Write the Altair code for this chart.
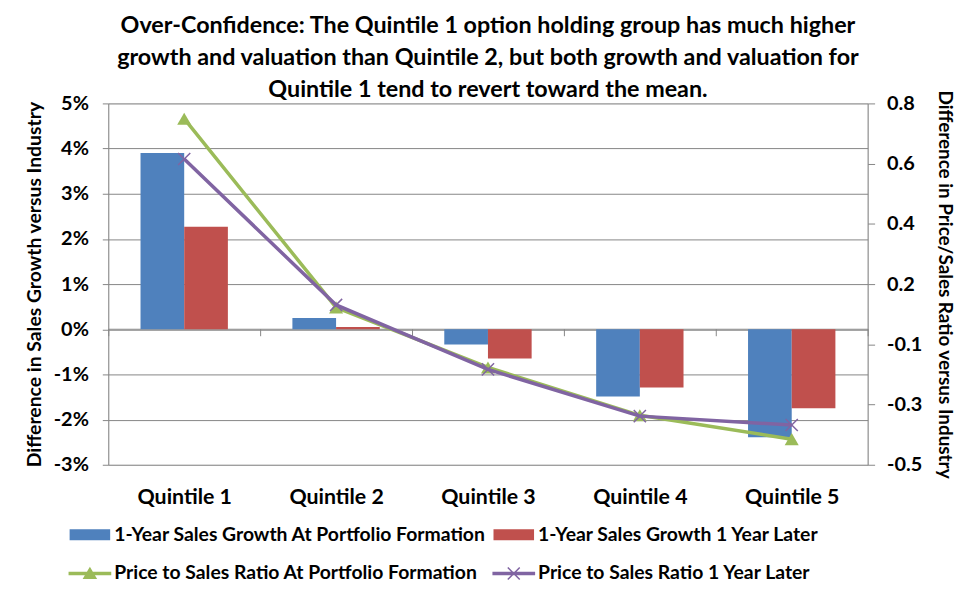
import altair as alt
import pandas as pd

quintiles = ["Quintile 1", "Quintile 2", "Quintile 3", "Quintile 4", "Quintile 5"]
bar_series = ["1-Year Sales Growth At Portfolio Formation", "1-Year Sales Growth 1 Year Later"]
line_series = ["Price to Sales Ratio At Portfolio Formation", "Price to Sales Ratio 1 Year Later"]

growth_at_formation = [0.0390, 0.0025, -0.0034, -0.0149, -0.0239]
growth_one_year_later = [0.0227, 0.0005, -0.0065, -0.0129, -0.0175]
ps_at_formation = [0.745, 0.066, -0.150, -0.322, -0.408]
ps_one_year_later = [0.600, 0.075, -0.157, -0.325, -0.357]

left_ticks = [-0.03, -0.02, -0.01, 0.0, 0.01, 0.02, 0.03, 0.04, 0.05]
right_ticks = [-0.5, -0.28333, -0.06667, 0.15, 0.36667, 0.58333, 0.8]

title_lines = [
    "Over-Confidence: The Quintile 1 option holding group has much higher",
    "growth and valuation than Quintile 2, but both growth and valuation for",
    "Quintile 1 tend to revert toward the mean.",
]
left_title = "Difference in Sales Growth versus Industry"
right_title = "Difference in Price/Sales Ratio versus Industry"

series_order = bar_series + line_series
series_colors = ["#4F81BD", "#C0504D", "#9BBB59", "#8064A2"]

bars_df = pd.DataFrame({
    "quintile": quintiles * 2,
    "series": [bar_series[0]] * 5 + [bar_series[1]] * 5,
    "value": growth_at_formation + growth_one_year_later,
})
lines_df = pd.DataFrame({
    "quintile": quintiles * 2,
    "series": [line_series[0]] * 5 + [line_series[1]] * 5,
    "ratio": ps_at_formation + ps_one_year_later,
})

FONT = "Lato"
GRAY = "#868686"

color_scale = alt.Scale(domain=series_order, range=series_colors)

path_bar = "M-0.95,-0.26H0.95V0.26H-0.95Z"
path_green = "M-1,-0.08H1V0.08H-1ZM0,-0.32L0.34,0.26L-0.34,0.26Z"
path_purple = ("M-1,-0.08H1V0.08H-1Z"
               "M-0.255,-0.305L0.305,0.255L0.255,0.305L-0.305,-0.255Z"
               "M0.305,-0.255L-0.255,0.305L-0.305,0.255L0.255,-0.305Z")
shape_signal = (f"datum.value === '{line_series[0]}' ? '{path_green}' : "
                f"datum.value === '{line_series[1]}' ? '{path_purple}' : '{path_bar}'")

legend = alt.Legend(
    title=None,
    orient="none",
    direction="horizontal",
    legendX=-40,
    legendY=413,
    columns=2,
    columnPadding=6,
    rowPadding=8,
    symbolSize=1849,
    symbolType={"expr": shape_signal},
    symbolStrokeWidth=0,
    symbolOpacity=1,
    labelFont=FONT,
    labelFontWeight="bold",
    labelFontSize=19.5,
    labelColor="black",
    labelLimit=600,
    labelOffset=3,
)

x_enc = alt.X(
    "quintile:N",
    sort=quintiles,
    scale=alt.Scale(paddingInner=0, paddingOuter=0),
    axis=alt.Axis(
        title=None,
        orient="bottom",
        offset=-137,
        tickBand="extent",
        domainColor=GRAY,
        tickColor=GRAY,
        tickSize=7,
        labelAngle=0,
        labelFont=FONT,
        labelFontWeight="bold",
        labelFontSize=21.5,
        labelColor="black",
        labelPadding=152,
        grid=False,
    ),
)

bars = alt.Chart(bars_df).mark_bar().encode(
    x=x_enc,
    xOffset=alt.XOffset("series:N", sort=bar_series,
                        scale=alt.Scale(paddingInner=0, paddingOuter=0.7386)),
    y=alt.Y(
        "value:Q",
        scale=alt.Scale(domain=[-0.03, 0.05], nice=False, zero=False),
        axis=alt.Axis(
            title=left_title,
            orient="left",
            values=left_ticks,
            labelExpr="(datum.value < -0.0001 ? '-' : '') + format(abs(datum.value) * 100, '.0f') + '%'",
            grid=True,
            gridColor=GRAY,
            domainColor=GRAY,
            tickColor=GRAY,
            tickSize=6,
            labelFont=FONT,
            labelFontWeight="bold",
            labelFontSize=20,
            labelColor="black",
            labelPadding=14,
            titleFont=FONT,
            titleFontWeight="bold",
            titleFontSize=19.5,
            titleColor="black",
            titlePadding=9,
        ),
    ),
    color=alt.Color("series:N", scale=color_scale, legend=legend),
)

y_right = alt.Y(
    "ratio:Q",
    scale=alt.Scale(domain=[-0.5, 0.8], nice=False, zero=False),
    axis=alt.Axis(
        title=right_title,
        orient="right",
        values=right_ticks,
        labelExpr="(datum.value < -0.0001 ? '-' : '') + format(abs(round(datum.value * 10)) / 10, '.1f')",
        grid=False,
        domainColor=GRAY,
        tickColor=GRAY,
        tickSize=7,
        labelFont=FONT,
        labelFontWeight="bold",
        labelFontSize=20,
        labelColor="black",
        labelPadding=12,
        titleFont=FONT,
        titleFontWeight="bold",
        titleFontSize=19,
        titleColor="black",
        titlePadding=13,
    ),
)

base_line = alt.Chart(lines_df)

line_green = base_line.transform_filter(
    alt.datum.series == line_series[0]
).mark_line(strokeWidth=3.5).encode(
    x=alt.X("quintile:N", sort=quintiles),
    y=y_right,
    color=alt.Color("series:N", scale=color_scale, legend=legend),
)
pts_green = base_line.transform_filter(
    alt.datum.series == line_series[0]
).mark_point(shape="triangle-up", filled=True, size=200, opacity=1, color="#9BBB59").encode(
    x=alt.X("quintile:N", sort=quintiles),
    y=alt.Y("ratio:Q"),
)
line_purple = base_line.transform_filter(
    alt.datum.series == line_series[1]
).mark_line(strokeWidth=3.5).encode(
    x=alt.X("quintile:N", sort=quintiles),
    y=alt.Y("ratio:Q"),
    color=alt.Color("series:N", scale=color_scale, legend=legend),
)
pts_purple = base_line.transform_filter(
    alt.datum.series == line_series[1]
).mark_point(shape="M-1,-1L1,1M-1,1L1,-1", filled=False, size=150, strokeWidth=1.5,
             opacity=1, color="#8064A2").encode(
    x=alt.X("quintile:N", sort=quintiles),
    y=alt.Y("ratio:Q"),
)

lines_layer = alt.layer(line_green, pts_green, line_purple, pts_purple)

chart = alt.layer(bars, lines_layer).resolve_scale(
    y="independent"
).properties(
    width=765,
    height=364,
    padding={"left": 16, "top": 3, "right": 3, "bottom": 0},
    title=alt.TitleParams(
        text=title_lines,
        font=FONT,
        fontWeight="bold",
        fontSize=23.5,
        lineHeight=32.5,
        color="black",
        anchor="middle",
        offset=-12,
    ),
).configure_view(stroke=None).configure(background="white")

chart.save("out.html", embed_options={"renderer": "svg", "actions": False})
